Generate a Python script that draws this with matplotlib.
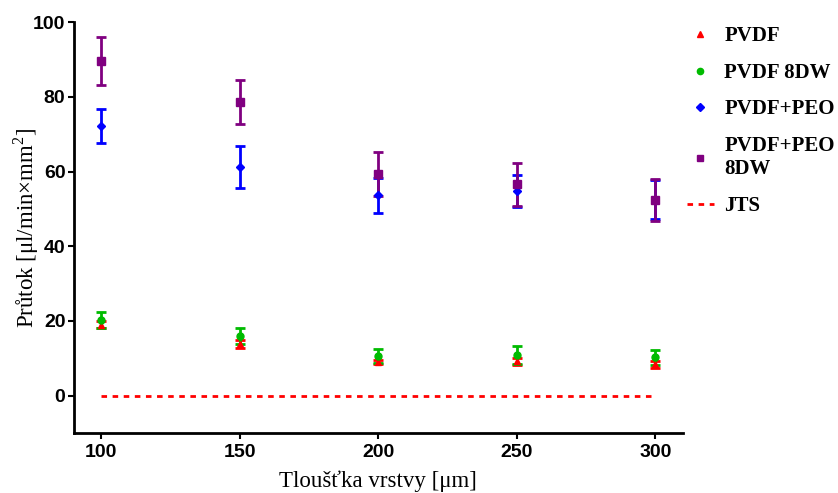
import numpy as np
import matplotlib.pyplot as plt

# tloustka vrstvy [um]
x = [100, 150, 200, 250, 300]

pvdf = [19.0, 13.8, 9.0, 9.2, 8.4]
pvdf_err = [1.0, 1.2, 0.6, 0.9, 0.9]

pvdf_8dw = [20.3, 16.0, 10.6, 10.8, 10.2]
pvdf_8dw_err = [2.1, 2.1, 1.8, 2.4, 2.0]

pvdf_peo = [72.2, 61.2, 53.6, 54.8, 52.4]
pvdf_peo_err = [4.6, 5.7, 4.6, 4.3, 5.2]

pvdf_peo_8dw = [89.6, 78.6, 59.4, 56.6, 52.4]
pvdf_peo_8dw_err = [6.3, 5.8, 5.9, 5.8, 5.6]

jts = [0, 0, 0, 0, 0]

plt.rcParams['font.family'] = ['Liberation Serif', 'DejaVu Serif']
plt.rcParams['mathtext.fontset'] = 'custom'
plt.rcParams['mathtext.rm'] = 'Liberation Serif'

fig = plt.figure(figsize=(8.38, 4.93), dpi=100)
ax = fig.add_axes([0.088, 0.122, 0.727, 0.833])

series = [
    (pvdf, pvdf_err, '#ff0000', '^', 5, 'PVDF'),
    (pvdf_8dw, pvdf_8dw_err, '#00bb00', 'o', 5, 'PVDF 8DW'),
    (pvdf_peo, pvdf_peo_err, '#0000ff', 'D', 4, 'PVDF+PEO'),
    (pvdf_peo_8dw, pvdf_peo_8dw_err, '#800080', 's', 5.5, 'PVDF+PEO\n8DW'),
]
handles = []
for y, e, c, m, ms, lab in series:
    ax.errorbar(x, y, yerr=e, fmt='none', ecolor=c, elinewidth=2,
                capsize=3.5, capthick=2, zorder=3)
    h, = ax.plot(x, y, linestyle='none', marker=m, color=c, markersize=ms,
                 label=lab, zorder=4)
    handles.append(h)

hj, = ax.plot(x, jts, color='#ff0000', linestyle=(0, (2, 2)), linewidth=2,
              label='JTS', zorder=2)
handles.append(hj)

ax.set_xlim(90, 310)
ax.set_ylim(-10, 100)
ax.set_xticks(x)
ax.set_yticks([0, 20, 40, 60, 80, 100])

for s in ['top', 'right']:
    ax.spines[s].set_visible(False)
for s in ['left', 'bottom']:
    ax.spines[s].set_linewidth(2)
ax.tick_params(width=1.5, length=4, direction='out')
ax.tick_params(axis='y', pad=2)
ax.tick_params(axis='x', pad=4)
for t in ax.get_xticklabels() + ax.get_yticklabels():
    t.set_family(['Liberation Sans', 'DejaVu Sans'])
    t.set_fontweight('bold')
    t.set_fontsize(14)

ax.set_xlabel('Tloušťka vrstvy [μm]', fontsize=16.5, labelpad=7)
ax.set_ylabel('Průtok [μl/min×mm$^2$]', fontsize=16.5)
ax.yaxis.set_label_coords(-0.053, 0.5)

leg = fig.legend(handles=handles, loc='upper left', bbox_to_anchor=(0.797, 0.985),
                 frameon=False, prop={'weight': 'bold', 'size': 15},
                 handlelength=1.3, handletextpad=0.5, labelspacing=0.8,
                 markerscale=0.9)

fig.savefig('out.png', dpi=100)
